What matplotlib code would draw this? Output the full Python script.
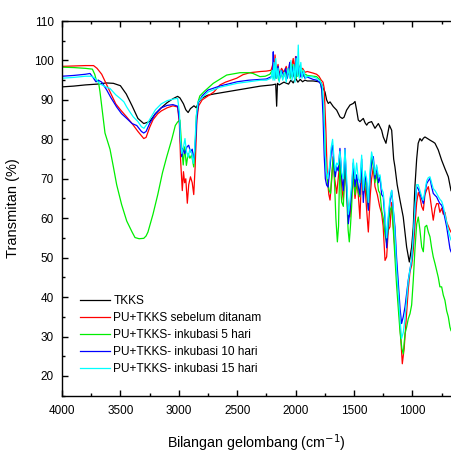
import matplotlib
matplotlib.use("Agg")
import matplotlib.pyplot as plt
from matplotlib.ticker import MultipleLocator

plt.rcParams["font.family"] = ["Liberation Sans", "DejaVu Sans"]

# ---------- data ----------
labels = [
    "TKKS",
    "PU+TKKS sebelum ditanam",
    "PU+TKKS- inkubasi 5 hari",
    "PU+TKKS- inkubasi 10 hari",
    "PU+TKKS- inkubasi 15 hari",
]
colors = ["#000000", "#ff0000", "#00ee00", "#0000ff", "#00ffff"]

tkks_x = [4000, 3900, 3800, 3700, 3620, 3560, 3500, 3450, 3400, 3350, 3300, 3250,
          3200, 3150, 3100, 3050, 3010, 2990, 2960, 2940, 2920, 2900, 2870, 2850,
          2830, 2800, 2750, 2700, 2600, 2500, 2400, 2300, 2200, 2170, 2162, 2155,
          2140, 2100, 2060, 2040, 2020, 2000, 1980, 1960, 1940, 1920, 1900, 1850,
          1800, 1780, 1765, 1748, 1734, 1720, 1705, 1677, 1648, 1620, 1600, 1585,
          1563, 1534, 1506, 1491, 1477, 1463, 1449, 1420, 1405, 1391, 1377, 1349,
          1320, 1291, 1263, 1249, 1226, 1197, 1177, 1160, 1149, 1130, 1106, 1078,
          1049, 1026, 1006, 992, 978, 963, 950, 935, 920, 905, 892, 870, 849, 820,
          806, 778, 749, 720, 692, 669]
tkks_y = [93.3, 93.5, 93.8, 94.0, 94.3, 94.2, 93.6, 91.5, 88.5, 85.3, 84.0, 84.5,
          86.5, 88.0, 89.3, 90.3, 90.9, 90.5, 89.0, 87.5, 86.8, 87.8, 88.5, 88.0,
          89.5, 90.5, 91.2, 91.5, 92.0, 92.5, 93.0, 93.5, 93.8, 94.0, 88.4, 94.2,
          93.8, 94.5, 94.0, 95.0, 94.3, 95.5, 94.5, 95.2, 94.6, 95.0, 94.8, 94.8,
          94.6, 94.3, 93.0, 92.0, 90.0, 89.1, 89.5, 88.3, 87.4, 85.7, 85.3, 85.6,
          87.4, 88.7, 89.1, 89.6, 87.4, 84.9, 84.5, 85.3, 84.2, 83.6, 84.2, 84.5,
          82.8, 84.0, 82.3, 80.6, 79.0, 83.6, 82.3, 75.0, 73.0, 68.5, 64.6, 60.3,
          52.7, 48.9, 52.7, 57.8, 68.0, 75.0, 79.0, 80.2, 79.6, 80.3, 80.6, 80.2,
          79.8, 79.3, 79.0, 77.3, 74.7, 72.5, 70.5, 67.0]

red_x = [4000, 3900, 3800, 3730, 3700, 3660, 3620, 3580, 3540, 3500, 3450, 3400,
         3350, 3300, 3280, 3250, 3220, 3180, 3150, 3100, 3050, 3010, 2995, 2985,
         2970, 2960, 2950, 2940, 2927, 2915, 2900, 2885, 2872, 2860, 2845, 2830,
         2800, 2750, 2700, 2647, 2600, 2504, 2450, 2390, 2300, 2250, 2210, 2190,
         2180, 2176, 2165, 2150, 2140, 2120, 2100, 2080, 2060, 2050, 2040, 2020,
         2010, 2000, 1990, 1975, 1960, 1940, 1920, 1900, 1850, 1820, 1800, 1780,
         1765, 1755, 1740, 1728, 1715, 1705, 1690, 1677, 1665, 1648, 1635, 1620,
         1605, 1591, 1577, 1563, 1548, 1534, 1520, 1506, 1491, 1475, 1463, 1449,
         1434, 1420, 1405, 1391, 1377, 1360, 1349, 1334, 1320, 1300, 1280, 1263,
         1250, 1234, 1220, 1206, 1192, 1177, 1163, 1149, 1120, 1100, 1086, 1070,
         1049, 1035, 1020, 1006, 992, 978, 963, 949, 935, 920, 906, 892, 877, 863,
         849, 835, 821, 806, 792, 778, 764, 749, 735, 721, 706, 692, 678, 669]
red_y = [98.5, 98.6, 98.7, 98.7, 98.0, 96.5, 94.0, 91.5, 89.0, 87.5, 85.8, 84.0,
         82.0, 80.2, 80.5, 83.0, 85.0, 86.5, 87.2, 88.0, 88.5, 88.2, 84.0, 75.0,
         67.0, 71.8, 69.0, 70.0, 63.8, 68.5, 70.5, 69.0, 66.0, 73.0, 85.0, 88.5,
         90.0, 91.0, 92.0, 93.8, 94.5, 95.5, 96.4, 96.9, 97.2, 97.3, 97.5, 99.5,
         97.0, 101.4, 97.0, 99.0, 96.5, 98.0, 97.0, 98.5, 96.5, 99.5, 97.5, 100.5,
         97.0, 101.0, 97.5, 99.0, 97.5, 98.0, 97.0, 97.2, 96.8, 96.5, 96.0, 95.0,
         94.5, 93.0, 82.0, 70.0, 66.0, 64.6, 70.0, 75.6, 70.0, 66.3, 70.0, 74.7,
         68.0, 64.6, 72.0, 68.0, 62.0, 60.3, 66.0, 71.0, 65.0, 69.0, 66.0, 59.9,
         72.2, 66.0, 68.0, 62.0, 56.5, 66.0, 70.0, 73.0, 68.0, 66.0, 63.0, 61.2,
         58.0, 49.3, 50.2, 57.0, 57.8, 64.0, 58.0, 52.0, 41.0, 30.0, 23.1, 27.0,
         36.0, 42.0, 46.5, 48.0, 52.0, 58.0, 64.0, 66.5, 65.4, 63.0, 62.0, 66.0,
         67.2, 68.0, 65.5, 62.5, 59.5, 62.5, 63.7, 63.7, 61.5, 62.5, 61.0, 61.5,
         59.0, 58.0, 57.0, 56.5]

green_x = [4000, 3900, 3800, 3740, 3720, 3703, 3690, 3675, 3650, 3632, 3610, 3589,
           3560, 3532, 3490, 3446, 3400, 3375, 3340, 3300, 3280, 3264, 3221, 3180,
           3140, 3104, 3060, 3030, 3010, 2990, 2975, 2962, 2950, 2935, 2920, 2905,
           2890, 2872, 2860, 2850, 2835, 2820, 2780, 2705, 2650, 2590, 2476, 2400,
           2364, 2305, 2260, 2220, 2200, 2190, 2180, 2170, 2160, 2145, 2130, 2110,
           2090, 2075, 2060, 2045, 2030, 2020, 2005, 1995, 1985, 1970, 1950, 1935,
           1915, 1900, 1850, 1820, 1790, 1775, 1762, 1750, 1740, 1725, 1712, 1700,
           1688, 1677, 1665, 1655, 1642, 1632, 1620, 1610, 1605, 1591, 1577, 1563,
           1550, 1540, 1530, 1520, 1506, 1491, 1477, 1463, 1449, 1434, 1420, 1405,
           1391, 1377, 1363, 1349, 1334, 1320, 1306, 1290, 1277, 1263, 1249, 1235,
           1220, 1205, 1192, 1177, 1163, 1149, 1135, 1120, 1105, 1090, 1078, 1063,
           1049, 1035, 1020, 1006, 992, 978, 963, 949, 935, 920, 906, 892, 877, 863,
           849, 835, 821, 806, 792, 778, 764, 749, 735, 721, 706, 692, 678, 669]
green_y = [98.3, 98.2, 98.0, 97.8, 96.5, 94.6, 95.0, 92.1, 86.0, 81.6, 79.5, 77.5,
           73.0, 68.5, 63.5, 59.3, 56.5, 55.1, 54.8, 54.9, 55.5, 56.5, 61.0, 66.0,
           71.5, 75.5, 80.0, 83.5, 84.4, 84.9, 77.8, 73.5, 78.1, 73.4, 76.4, 75.2,
           76.0, 73.0, 78.0, 85.7, 89.5, 91.0, 92.2, 94.2, 95.2, 96.3, 96.9, 96.9,
           96.7, 95.9, 96.0, 96.5, 97.5, 95.5, 98.5, 95.5, 97.5, 95.0, 97.0, 95.5,
           97.5, 95.5, 98.0, 95.5, 99.0, 96.0, 98.5, 95.5, 99.0, 96.0, 98.0, 96.0,
           96.5, 96.2, 96.0, 95.9, 95.0, 92.5, 88.0, 80.0, 72.5, 69.0, 67.0, 66.3,
           72.0, 75.6, 68.0, 60.0, 54.0, 58.0, 76.4, 66.0, 64.1, 63.0, 75.0, 66.0,
           57.0, 54.0, 58.0, 63.0, 72.0, 66.0, 70.0, 66.5, 65.4, 73.5, 67.0, 70.0,
           66.0, 62.4, 70.0, 75.6, 73.0, 69.0, 71.3, 67.0, 66.3, 62.0, 60.0, 56.0,
           53.6, 58.0, 62.0, 62.9, 57.0, 50.0, 43.0, 37.0, 31.0, 27.0, 25.6, 30.7,
           32.4, 34.5, 35.8, 38.0, 44.3, 52.0, 58.5, 60.3, 57.0, 52.7, 51.5, 57.8,
           58.2, 56.5, 55.3, 52.5, 50.2, 48.5, 46.8, 45.0, 42.6, 42.6, 40.5, 39.2,
           36.5, 35.0, 32.4, 31.5]

blue_x = [4000, 3900, 3800, 3760, 3730, 3710, 3690, 3660, 3617, 3580, 3532, 3490,
          3446, 3400, 3360, 3320, 3300, 3280, 3250, 3200, 3150, 3100, 3050, 3010,
          2995, 2985, 2975, 2965, 2950, 2930, 2915, 2900, 2885, 2872, 2860, 2845,
          2830, 2800, 2750, 2650, 2500, 2400, 2300, 2250, 2200, 2195, 2191, 2185,
          2175, 2165, 2150, 2135, 2120, 2100, 2085, 2070, 2050, 2035, 2020, 2010,
          1995, 1985, 1970, 1955, 1940, 1920, 1900, 1850, 1820, 1800, 1785, 1775,
          1765, 1755, 1745, 1734, 1722, 1705, 1690, 1683, 1670, 1660, 1648, 1635,
          1620, 1605, 1591, 1577, 1563, 1548, 1535, 1520, 1506, 1491, 1477, 1463,
          1449, 1434, 1420, 1405, 1391, 1377, 1363, 1349, 1334, 1320, 1306, 1290,
          1277, 1263, 1249, 1235, 1220, 1205, 1192, 1177, 1163, 1149, 1135, 1120,
          1105, 1092, 1078, 1063, 1049, 1035, 1020, 1006, 992, 978, 963, 950, 935,
          920, 906, 892, 877, 863, 849, 835, 821, 806, 792, 778, 764, 749, 735, 721,
          706, 692, 678, 669]
blue_y = [96.0, 96.2, 96.5, 96.7, 95.5, 94.6, 95.0, 94.5, 92.5, 90.5, 88.2, 86.5,
          85.3, 84.0, 83.5, 82.0, 81.6, 82.0, 84.0, 86.5, 88.0, 88.6, 88.8, 88.4,
          85.0, 79.0, 75.6, 77.7, 76.4, 78.1, 78.5, 76.8, 77.5, 75.0, 78.0, 86.0,
          89.5, 91.0, 92.5, 93.5, 94.6, 95.0, 95.2, 95.3, 96.0, 98.0, 102.2, 96.0,
          99.0, 95.5, 98.5, 95.5, 97.5, 96.0, 98.0, 95.5, 99.5, 96.0, 98.5, 95.5,
          101.0, 96.0, 98.5, 95.8, 97.0, 95.5, 95.8, 95.2, 95.0, 94.6, 94.0, 92.5,
          86.0, 76.0, 70.0, 68.4, 67.9, 73.0, 78.0, 78.5, 73.0, 70.5, 73.0, 72.0,
          77.7, 70.5, 67.0, 77.7, 68.0, 58.6, 62.0, 67.1, 74.0, 68.0, 71.0, 68.0,
          66.0, 75.0, 64.0, 71.0, 68.8, 62.0, 70.0, 74.0, 75.6, 70.0, 73.0, 69.0,
          70.5, 66.0, 65.4, 60.0, 52.5, 60.0, 64.0, 67.0, 62.0, 57.8, 50.0, 43.4,
          37.0, 33.3, 35.0, 37.5, 41.0, 44.3, 47.0, 49.3, 55.0, 62.0, 68.0, 67.5,
          66.3, 65.0, 63.7, 66.5, 68.8, 69.5, 70.1, 68.0, 66.3, 65.8, 65.4, 64.5,
          63.7, 63.3, 62.0, 60.0, 57.8, 55.0, 52.3, 51.5]

cyan_x = [4000, 3900, 3800, 3750, 3718, 3680, 3640, 3589, 3540, 3503, 3470, 3446,
          3420, 3390, 3350, 3320, 3298, 3270, 3240, 3200, 3150, 3100, 3050, 3010,
          2995, 2985, 2975, 2960, 2947, 2935, 2920, 2905, 2890, 2876, 2865, 2850,
          2835, 2800, 2750, 2650, 2500, 2400, 2300, 2250, 2210, 2200, 2193, 2185,
          2178, 2170, 2160, 2150, 2140, 2125, 2110, 2095, 2080, 2065, 2050, 2040,
          2030, 2015, 2005, 1995, 1985, 1977, 1968, 1955, 1945, 1930, 1915, 1900,
          1850, 1820, 1790, 1770, 1758, 1748, 1738, 1725, 1710, 1695, 1683, 1670,
          1660, 1648, 1635, 1620, 1605, 1591, 1577, 1563, 1548, 1535, 1520, 1506,
          1491, 1477, 1463, 1449, 1434, 1420, 1405, 1391, 1377, 1363, 1349, 1334,
          1320, 1306, 1290, 1277, 1263, 1249, 1235, 1220, 1205, 1192, 1177, 1163,
          1149, 1135, 1120, 1105, 1092, 1078, 1063, 1049, 1035, 1020, 1006, 992,
          978, 963, 950, 935, 920, 906, 892, 877, 863, 849, 835, 821, 806, 792, 778,
          764, 749, 735, 721, 706, 692, 678, 669]
cyan_y = [95.5, 95.7, 96.0, 96.0, 95.5, 94.2, 93.5, 92.9, 91.3, 90.4, 89.5, 88.2,
          87.0, 85.7, 84.5, 83.2, 82.8, 84.0, 85.5, 87.5, 89.0, 89.8, 90.2, 90.4,
          87.0, 80.0, 76.4, 78.0, 80.2, 77.0, 75.5, 77.5, 76.5, 73.9, 77.0, 86.0,
          89.5, 90.6, 92.0, 93.2, 94.2, 94.6, 95.0, 95.0, 95.5, 97.5, 95.0, 99.5,
          95.0, 100.5, 95.5, 98.0, 94.5, 97.5, 95.0, 97.0, 94.5, 98.0, 95.5, 100.0,
          95.0, 99.0, 94.5, 100.5, 96.0, 103.9, 95.5, 99.5, 95.5, 97.5, 95.5, 96.0,
          95.8, 95.5, 94.8, 93.5, 88.0, 78.0, 72.0, 70.0, 73.0, 78.0, 80.0, 75.0,
          72.0, 74.0, 73.5, 77.0, 71.5, 70.0, 77.4, 70.5, 61.0, 64.0, 68.5, 75.0,
          70.0, 74.0, 70.0, 69.0, 76.0, 67.0, 72.0, 70.0, 64.0, 72.0, 76.8, 74.5,
          71.0, 73.5, 70.5, 71.0, 67.5, 66.5, 61.5, 55.0, 61.0, 65.0, 67.1, 62.5,
          56.0, 47.0, 41.0, 34.0, 29.5, 31.0, 34.5, 39.5, 44.0, 47.0, 49.5, 55.5,
          62.5, 68.5, 68.5, 67.0, 65.5, 64.5, 67.0, 69.5, 70.3, 70.5, 69.0, 67.5,
          67.0, 66.3, 65.5, 64.8, 64.3, 63.0, 61.0, 59.0, 57.0, 55.3, 54.5]

series = [(tkks_x, tkks_y), (red_x, red_y), (green_x, green_y),
          (blue_x, blue_y), (cyan_x, cyan_y)]
# ------------------------------------------------

fig = plt.figure(figsize=(4.51, 4.53), dpi=100)
ax = fig.add_axes([0.1375, 0.1265, 0.8625, 0.8271])

for (xs, ys), c, lab in zip(series, colors, labels):
    ax.plot(xs, ys, color=c, lw=0.9, label=lab)

ax.set_xlim(4000, 669)
ax.set_ylim(15, 110)
ax.xaxis.set_major_locator(MultipleLocator(500))
ax.xaxis.set_minor_locator(MultipleLocator(250))
ax.yaxis.set_major_locator(MultipleLocator(10))
ax.yaxis.set_minor_locator(MultipleLocator(5))
ax.set_yticks(range(20, 111, 10))
ax.tick_params(which="both", direction="in", top=True, right=False,
               labelsize=8.5, width=1.0)
ax.tick_params(which="major", length=4)
ax.tick_params(which="minor", length=2.5)
ax.tick_params(axis="x", pad=7)
ax.tick_params(axis="y", pad=6)
ax.spines["right"].set_visible(False)
for s in ("left", "bottom", "top"):
    ax.spines[s].set_linewidth(1.0)

ax.set_xlabel("Bilangan gelombang (cm$^{-1}$)", fontsize=10.3, labelpad=11)
ax.set_ylabel("Transmitan (%)", fontsize=10.5, labelpad=10)

ax.legend(loc="lower left", bbox_to_anchor=(0.046, 0.055), frameon=False,
          fontsize=8.6, handlelength=2.5, handletextpad=0.3, labelspacing=0.42,
          borderpad=0, borderaxespad=0)

fig.savefig("out.png", dpi=100)
